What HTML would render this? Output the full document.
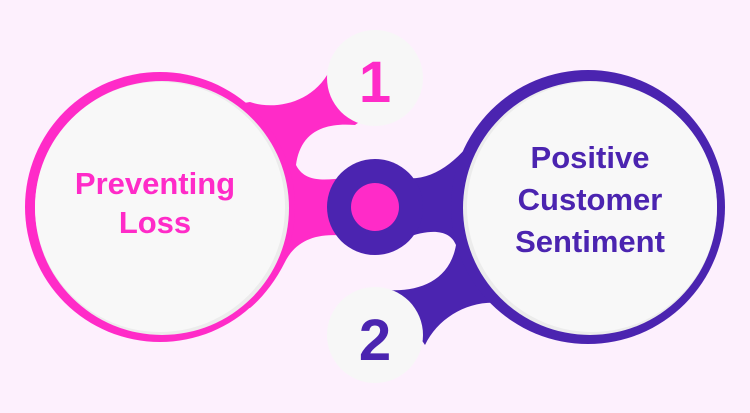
<!DOCTYPE html>
<html><head><style>
html,body{margin:0;padding:0;background:#fdf0fd;}
svg{display:block}
text{font-family:"Liberation Sans",Arial,sans-serif;font-weight:bold;text-anchor:middle}
</style></head><body>
<svg width="750" height="413" viewBox="0 0 750 413">
<rect width="750" height="413" fill="#fdf0fd"/>
<path d="M200,110 L250,102 C272,110 312,105 330,70 L365,118 L355,125 C320,122 300,135 296,165 C305,183 325,180 345,178 L345,236 C315,232 295,242 285,262 C275,282 262,298 250,308 L200,300 Z" fill="#ff2bc8"/>
<path d="M405,178 C440,182 470,150 492,110 L560,100 L560,320 L500,303 C468,300 438,318 425,345 L388,290 C420,292 450,280 456,245 C450,230 432,228 405,238 Z" fill="#4b24b0"/>
<circle cx="160" cy="207" r="135" fill="#ff2bc8"/>
<circle cx="588" cy="207" r="137" fill="#4b24b0"/>
<circle cx="375" cy="207" r="48" fill="#4b24b0"/>
<circle cx="375" cy="207" r="24" fill="#ff2bc8"/>
<circle cx="162" cy="208" r="127" fill="#ececec"/>
<circle cx="160" cy="207" r="125" fill="#f8f8f8"/>
<circle cx="590" cy="208" r="127" fill="#ececec"/>
<circle cx="592" cy="207" r="125" fill="#f8f8f8"/>
<circle cx="375" cy="78" r="48" fill="#f7f7f7"/>
<circle cx="375" cy="335" r="48" fill="#f7f7f7"/>
<text x="375" y="102" font-size="58" fill="#ff2bc8">1</text>
<text x="375" y="360" font-size="58" fill="#4b24b0">2</text>
<text x="155" y="194" font-size="31" fill="#ff2bc8">Preventing</text>
<text x="155" y="233" font-size="31" fill="#ff2bc8">Loss</text>
<text x="590" y="168" font-size="31" fill="#4b24b0">Positive</text>
<text x="590" y="210" font-size="31" fill="#4b24b0">Customer</text>
<text x="590" y="252" font-size="31" fill="#4b24b0">Sentiment</text>
</svg>
</body></html>
